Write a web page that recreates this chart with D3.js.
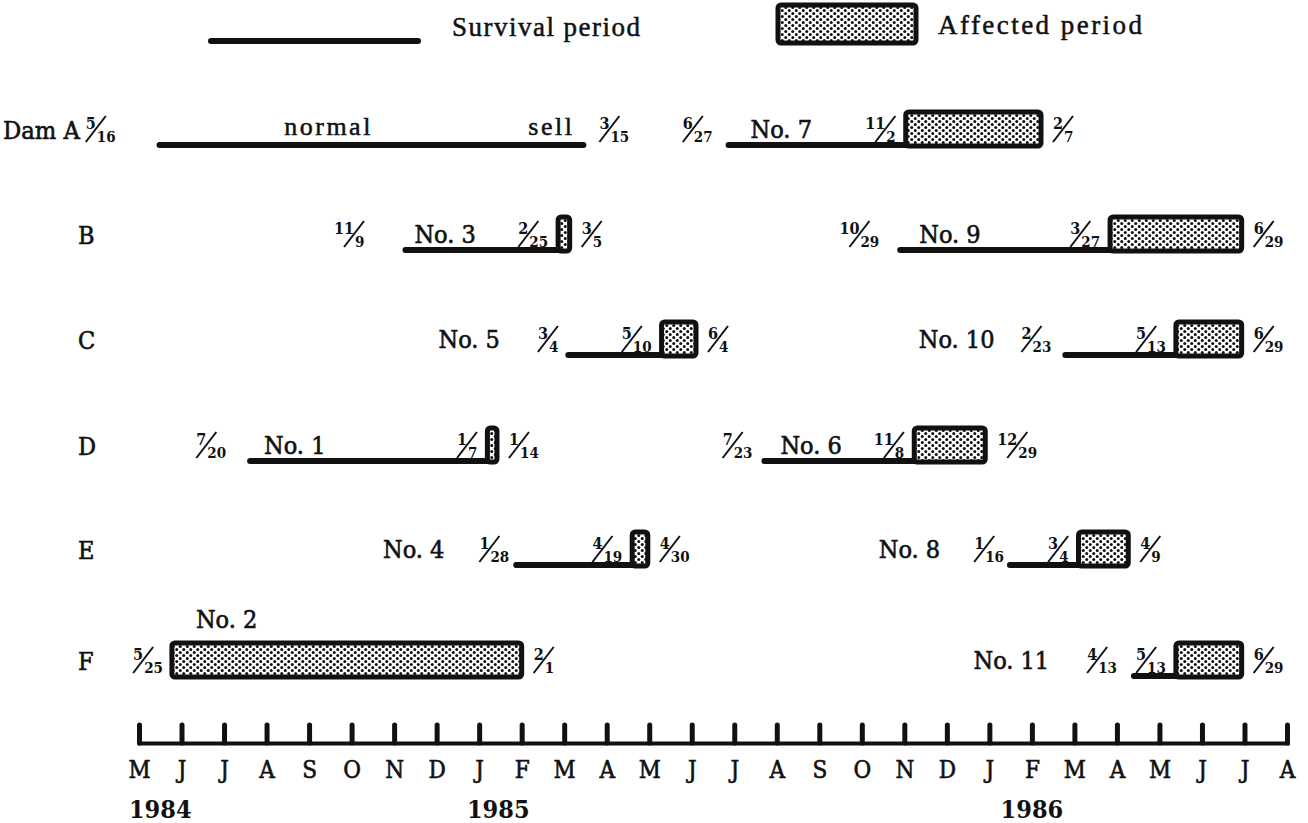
<!DOCTYPE html>
<html>
<head>
<meta charset="utf-8">
<script src="https://cdn.jsdelivr.net/npm/d3@7"></script>
<style>
  html, body { margin: 0; padding: 0; background: #fff; }
  svg { display: block; }
</style>
</head>
<body>
<svg id="chart" width="1308" height="823"></svg>
<script>
// ---------------- DATA ----------------
const monthLabels = ['M','J','J','A','S','O','N','D','J','F','M','A','M','J','J','A','S','O','N','D','J','F','M','A','M','J','J','A'];
const yearLabels = ['1984', '1985', '1986'];
const yearMonthPos = [0.5, 8.45, 21.0];   // month index where year label is centred
const dams = ['A', 'B', 'C', 'D', 'E', 'F'];

const animalNames  = ['normal', 'No. 7', 'No. 3', 'No. 9', 'No. 5', 'No. 10', 'No. 1', 'No. 6', 'No. 4', 'No. 8', 'No. 2', 'No. 11'];
const animalDam    = ['A', 'A', 'B', 'B', 'C', 'C', 'D', 'D', 'E', 'E', 'F', 'F'];
const birthDates   = ['1984-05-16','1985-06-27','1984-11-09','1985-10-29','1985-03-04','1986-02-23','1984-07-20','1985-07-23','1985-01-28','1986-01-16','1984-05-25','1986-04-13'];
const onsetDates   = [null,'1985-11-02','1985-02-25','1986-03-27','1985-05-10','1986-05-13','1985-01-07','1985-11-08','1985-04-19','1986-03-04','1984-05-25','1986-05-13'];
const endDates     = ['1985-03-15','1986-02-07','1985-03-05','1986-06-29','1985-06-04','1986-06-29','1985-01-14','1985-12-29','1985-04-30','1986-04-09','1985-02-01','1986-06-29'];
const endNotes     = ['sell', null, null, null, null, null, null, null, null, null, null, null];

// ---------------- LAYOUT (label placement, pixels) ----------------
const startLabelGap = [44, 16, 41, 21, 10, 14, 24, 12, 7, 6, 9, 17];
const nameMode      = ['center','above','above','above','left','left','above','above','left','left','top','left'];
const nameOffset    = [169, 22, 9, 19, 38, 27, 14, 16, 35, 34, 24, 38];
const rowLineY      = [145, 250, 355, 461, 565, 676];

// ---------------- SETUP ----------------
const svg = d3.select('#chart');
const SERIF = "'DejaVu Serif Condensed', 'DejaVu Serif', serif";
const TEXTF = "'Liberation Serif', 'Times New Roman', serif";
const INK = '#111';

const defs = svg.append('defs');
const pat = defs.append('pattern').attr('id', 'dots')
  .attr('patternUnits', 'userSpaceOnUse').attr('width', 7).attr('height', 6);
pat.append('rect').attr('width', 7).attr('height', 6).attr('fill', '#fff');
pat.append('circle').attr('cx', 1.75).attr('cy', 1.5).attr('r', 1.5).attr('fill', INK);
pat.append('circle').attr('cx', 5.25).attr('cy', 4.5).attr('r', 1.5).attr('fill', INK);

function monthIndex(s) {
  const [y, m, d] = s.split('-').map(Number);
  const dim = new Date(Date.UTC(y, m, 0)).getUTCDate();
  return (y - 1984) * 12 + (m - 5) + (d - 1) / dim;
}
function fracParts(s) {
  const [y, m, d] = s.split('-').map(Number);
  return [String(m), String(d)];
}

const x = d3.scaleLinear().domain([0, monthLabels.length - 1]).range([139, 1287]);
const yRow = d3.scaleOrdinal().domain(dams).range(rowLineY);

function serifText(sel, size) {
  return sel.attr('font-family', SERIF).attr('font-size', size)
    .attr('fill', INK).attr('stroke', INK).attr('stroke-width', 0.6);
}

// ---------------- FRACTION HELPER ----------------
function fraction(parent, dateStr, cy) {
  const [num, den] = fracParts(dateStr);
  const g = parent.append('g');
  const inner = g.append('g').attr('transform', `translate(0,${cy})`);
  inner.append('text').attr('x', 0).attr('y', 0).attr('text-anchor', 'end')
    .attr('font-family', SERIF).attr('font-weight', 'bold').attr('font-size', 16)
    .attr('fill', INK).text(num);
  inner.append('text').attr('x', 1).attr('y', 13).attr('text-anchor', 'start')
    .attr('font-family', SERIF).attr('font-weight', 'bold').attr('font-size', 15)
    .attr('fill', INK).text(den);
  inner.append('line').attr('x1', -10).attr('y1', 13).attr('x2', 10).attr('y2', -13)
    .attr('stroke', INK).attr('stroke-width', 2);
  return g;
}
function placeLeft(g, xLeft) {
  const b = g.node().getBBox();
  g.attr('transform', `translate(${xLeft - b.x},0)`);
  return xLeft;
}
function placeRight(g, xRight) {
  const b = g.node().getBBox();
  g.attr('transform', `translate(${xRight - (b.x + b.width)},0)`);
  return xRight - b.width;
}

// ---------------- LEGEND ----------------
const leg = svg.append('g');
leg.append('line').attr('x1', 211).attr('x2', 418).attr('y1', 41).attr('y2', 41)
  .attr('stroke', INK).attr('stroke-width', 6).attr('stroke-linecap', 'round');
leg.append('text').attr('x', 452).attr('y', 36).attr('font-family', TEXTF).attr('font-size', 27)
  .attr('fill', INK).attr('stroke', INK).attr('stroke-width', 0.5)
  .attr('textLength', 188).attr('lengthAdjust', 'spacing').text('Survival period');
leg.append('rect').attr('x', 778).attr('y', 5).attr('width', 138).attr('height', 38).attr('rx', 3)
  .attr('fill', 'url(#dots)').attr('stroke', INK).attr('stroke-width', 5);
leg.append('text').attr('x', 938).attr('y', 34).attr('font-family', TEXTF).attr('font-size', 27)
  .attr('fill', INK).attr('stroke', INK).attr('stroke-width', 0.5)
  .attr('textLength', 204).attr('lengthAdjust', 'spacing').text('Affected period');

// ---------------- ROW LABELS ----------------
serifText(svg.append('g').selectAll('text').data(dams).join('text'), 25)
  .attr('x', (d, i) => i === 0 ? 3 : 78)
  .attr('y', d => yRow(d) - 6)
  .attr('textLength', (d, i) => i === 0 ? 77 : null)
  .attr('lengthAdjust', 'spacingAndGlyphs')
  .text((d, i) => i === 0 ? 'Dam ' + d : d);

// ---------------- ANIMALS ----------------
const marks = svg.append('g');
animalNames.forEach((name, i) => {
  const L = yRow(animalDam[i]);
  const xs = x(monthIndex(birthDates[i]));
  const xo = onsetDates[i] ? x(monthIndex(onsetDates[i])) : null;
  const xe = x(monthIndex(endDates[i]));
  const g = marks.append('g');
  const cy = L - 16;

  // survival line
  const survEnd = xo !== null ? xo : xe;
  if (survEnd > xs + 0.5) {
    g.append('line').attr('x1', xs).attr('x2', survEnd).attr('y1', L).attr('y2', L)
      .attr('stroke', INK).attr('stroke-width', 6).attr('stroke-linecap', 'round');
  }
  // affected box
  if (xo !== null) {
    g.append('rect').attr('x', xo).attr('y', L - 33).attr('width', xe - xo).attr('height', 34)
      .attr('rx', 3).attr('fill', 'url(#dots)').attr('stroke', INK).attr('stroke-width', 5);
  }
  // start fraction
  const fs = fraction(g, birthDates[i], cy);
  const fsLeft = placeRight(fs, xs - startLabelGap[i]);
  // onset fraction
  if (xo !== null && xo - xs > 1) {
    const fo = fraction(g, onsetDates[i], cy);
    placeRight(fo, xo - 10);
  }
  // end fraction
  const fe = fraction(g, endDates[i], cy);
  placeLeft(fe, xe + (xo === null ? 16 : 12));

  // name label
  const mode = nameMode[i];
  if (mode === 'center') {
    g.append('text').attr('x', xs + nameOffset[i]).attr('y', L - 10)
      .attr('text-anchor', 'middle').attr('font-family', TEXTF).attr('font-size', 26)
      .attr('fill', INK).attr('stroke', INK).attr('stroke-width', 0.5)
      .attr('letter-spacing', 2.5).text(name);
  } else if (mode === 'above') {
    serifText(g.append('text'), 25).attr('x', xs + nameOffset[i]).attr('y', L - 7).text(name);
  } else if (mode === 'top') {
    serifText(g.append('text'), 25).attr('x', xs + nameOffset[i]).attr('y', L - 48).text(name);
  } else {
    serifText(g.append('text'), 25).attr('x', fsLeft - nameOffset[i]).attr('y', L - 7)
      .attr('text-anchor', 'end').text(name);
  }
  // end note
  if (endNotes[i]) {
    g.append('text').attr('x', xe - 9).attr('y', L - 10)
      .attr('text-anchor', 'end').attr('font-family', TEXTF).attr('font-size', 26)
      .attr('fill', INK).attr('stroke', INK).attr('stroke-width', 0.5)
      .attr('letter-spacing', 2.5).text(endNotes[i]);
  }
});

// ---------------- AXIS ----------------
const axisG = svg.append('g').attr('transform', 'translate(0,743)')
  .call(d3.axisBottom(x)
    .tickValues(d3.range(monthLabels.length))
    .tickFormat(i => monthLabels[i])
    .tickSizeInner(-18).tickSizeOuter(-18).tickPadding(18));
axisG.select('.domain').attr('stroke', INK).attr('stroke-width', 4).attr('fill', 'none');
axisG.selectAll('.tick line').attr('stroke', INK).attr('stroke-width', 5).attr('stroke-linecap', 'round');
axisG.selectAll('.tick text').attr('fill', INK).attr('stroke', INK).attr('stroke-width', 0.6)
  .attr('font-family', SERIF).attr('font-size', 24);

svg.append('g').selectAll('text').data(yearLabels).join('text')
  .attr('x', (d, i) => x(yearMonthPos[i])).attr('y', 818)
  .attr('text-anchor', 'middle').attr('font-family', SERIF).attr('font-weight', 'bold')
  .attr('fill', INK).attr('font-size', 25).text(d => d);
</script>
</body>
</html>
